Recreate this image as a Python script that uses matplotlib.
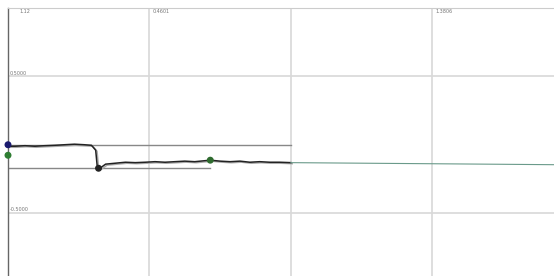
import numpy as np
import matplotlib.pyplot as plt

# trace
t = [0, 0.05, 0.12, 0.19, 0.26, 0.33, 0.40, 0.47, 0.54, 0.59, 0.62, 0.63, 0.65, 0.69,
     0.76, 0.83, 0.90, 0.97, 1.04, 1.11, 1.18, 1.25, 1.32, 1.39, 1.43, 1.50, 1.57,
     1.64, 1.71, 1.78, 1.85, 1.92, 2.0]
v = [-0.011, -0.011, -0.007, -0.011, -0.007, -0.004, 0.0, 0.004, 0.0, -0.004, -0.040,
     -0.150, -0.172, -0.142, -0.135, -0.128, -0.131, -0.128, -0.124, -0.128, -0.124,
     -0.120, -0.124, -0.117, -0.113, -0.120, -0.124, -0.120, -0.128, -0.124, -0.128,
     -0.128, -0.131]
t_tail = [2.0, 2.5, 3.0, 3.5, 3.86]
v_tail = [-0.131, -0.135, -0.139, -0.143, -0.146]
ref_hi = 0.0
ref_lo = -0.172
mk_t = [0, 0, 0.64, 1.43]
mk_v = [0, -0.077, -0.172, -0.113]
mk_c = ['#1a1a6e', '#2e7d32', '#222222', '#2e6b2e']
y_ticks = [0.5, -0.5]
y_tick_labels = ['0.5000', '-0.5000']
x_top_labels = [(0.08, '1.12'), (1.02, '0.4601'), (3.02, '1.3806')]

fig = plt.figure(figsize=(5.54, 2.76), dpi=100)
ax = fig.add_axes([8 / 554, 0, 546 / 554, 268 / 276])
ax.set_xlim(0, 3.86)
ax.set_ylim(-0.96, 1.0)

for gx in [1, 2, 3]:
    ax.axvline(gx, color='#d8d8d8', lw=1.2, zorder=0)
for gy in y_ticks:
    ax.axhline(gy, color='#d8d8d8', lw=1.2, zorder=0)

ax.plot([0, 2.0], [ref_hi, ref_hi], color='#888888', lw=1.0)
ax.plot([0, 1.43], [ref_lo, ref_lo], color='#888888', lw=1.0)
ax.plot(np.array(t) + 0.01, np.array(v) - 0.008, color='#aaaaaa', lw=1.0)
ax.plot(t, v, color='#222222', lw=1.1)
ax.plot(t_tail, v_tail, color='#6a9a8a', lw=0.8)
ax.scatter(mk_t, mk_v, c=mk_c, s=16, zorder=5, clip_on=False)

for gy, lab in zip(y_ticks, y_tick_labels):
    ax.text(0.01, gy + 0.005, lab, fontsize=3.5, color='#777777', va='bottom')
for gx, lab in x_top_labels:
    ax.text(gx, 0.99, lab, fontsize=3.5, color='#777777', va='top')

ax.set_xticks([])
ax.set_yticks([])
for s in ['right', 'bottom']:
    ax.spines[s].set_visible(False)
ax.spines['top'].set_color('#cccccc')
ax.spines['left'].set_color('#666666')
ax.spines['left'].set_linewidth(1.0)

fig.savefig('out.png', dpi=100)
